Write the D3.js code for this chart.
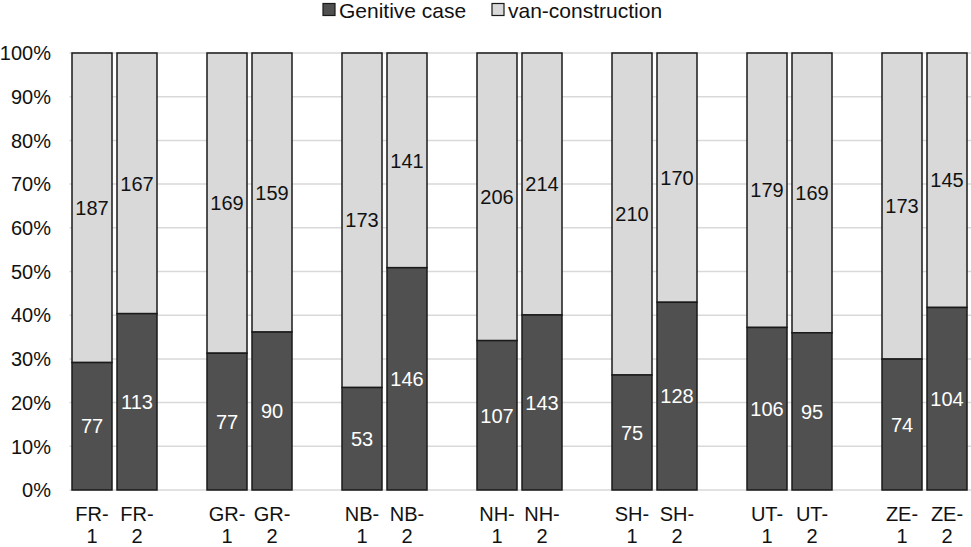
<!DOCTYPE html>
<html><head><meta charset="utf-8">
<script src="https://cdn.jsdelivr.net/npm/d3@7"></script>
<style>body{margin:0;background:#fff}svg{display:block;font-family:"Liberation Sans",Arial,sans-serif}</style>
</head><body><svg id="c" width="971" height="547"></svg>
<script>
const regions = ["FR","GR","NB","NH","SH","UT","ZE"];
const waves = ["1","2"];
const genitive = [77,113,77,90,53,146,107,143,75,128,106,95,74,104];
const vanConstr = [187,167,169,159,173,141,206,214,210,170,179,169,173,145];
const yTicks = [0,0.1,0.2,0.3,0.4,0.5,0.6,0.7,0.8,0.9,1];
const seriesNames = ["Genitive case","van-construction"];

(function(){
const svg = d3.select("#c");
const W = 971, H = 547;
const mLeft = 69.5, mRight = 969.5, mTop = 53, mBottom = 490;
const FS = 20;

const bars = [];
regions.forEach((r,gi)=>waves.forEach((w,wi)=>{
  const i = gi*2+wi;
  const total = genitive[i]+vanConstr[i];
  bars.push({slot: gi*3+wi, region:r, wave:w, gen:genitive[i], van:vanConstr[i], g:genitive[i]/total});
}));
const nSlots = regions.length*3-1;
const x = d3.scaleBand().domain(d3.range(nSlots)).range([mLeft,mRight]).paddingInner(5/45).paddingOuter(2.5/45);
const y = d3.scaleLinear().domain([0,1]).range([mBottom,mTop]);

svg.append("g").selectAll("line").data(yTicks).join("line")
  .attr("x1",mLeft).attr("x2",W).attr("y1",d=>y(d)).attr("y2",d=>y(d))
  .attr("stroke","#d9d9d9").attr("stroke-width",1.5);

svg.append("g").selectAll("text").data(yTicks).join("text")
  .attr("x",51).attr("y",d=>y(d)).attr("dy","0.36em").attr("text-anchor","end")
  .attr("font-size",FS).attr("fill","#111").text(d=>d3.format(".0%")(d));

const bw = x.bandwidth();
const gB = svg.append("g");
gB.selectAll("rect.van").data(bars).join("rect").attr("class","van")
  .attr("x",d=>x(d.slot)).attr("width",bw)
  .attr("y",y(1)).attr("height",d=>y(d.g)-y(1))
  .attr("fill","#d9d9d9").attr("stroke","#1a1a1a").attr("stroke-width",1.5);
gB.selectAll("rect.gen").data(bars).join("rect").attr("class","gen")
  .attr("x",d=>x(d.slot)).attr("width",bw)
  .attr("y",d=>y(d.g)).attr("height",d=>y(0)-y(d.g))
  .attr("fill","#505050").attr("stroke","#1a1a1a").attr("stroke-width",1.5);

gB.selectAll("text.gl").data(bars).join("text").attr("class","gl")
  .attr("x",d=>x(d.slot)+bw/2).attr("y",d=>y(d.g/2)).attr("dy","0.36em")
  .attr("text-anchor","middle").attr("font-size",FS).attr("fill","#fff").text(d=>d.gen);
gB.selectAll("text.vl").data(bars).join("text").attr("class","vl")
  .attr("x",d=>x(d.slot)+bw/2).attr("y",d=>y((1+d.g)/2)).attr("dy","0.36em")
  .attr("text-anchor","middle").attr("font-size",FS).attr("fill","#111").text(d=>d.van);

const cl = svg.append("g").selectAll("text").data(bars).join("text")
  .attr("text-anchor","middle").attr("font-size",FS).attr("fill","#111");
cl.append("tspan").attr("x",d=>x(d.slot)+bw/2).attr("y",521).text(d=>d.region+"-");
cl.append("tspan").attr("x",d=>x(d.slot)+bw/2).attr("y",543).text(d=>d.wave);

const leg = svg.append("g");
const legItems = [{name:seriesNames[0],fill:"#505050",x:323},{name:seriesNames[1],fill:"#d9d9d9",x:492}];
leg.selectAll("rect").data(legItems).join("rect")
  .attr("x",d=>d.x).attr("y",3.5).attr("width",12).attr("height",12)
  .attr("fill",d=>d.fill).attr("stroke","#1a1a1a").attr("stroke-width",1.2);
leg.selectAll("text").data(legItems).join("text")
  .attr("x",d=>d.x+16).attr("y",10).attr("dy","0.36em").attr("font-size",21).attr("fill","#111").text(d=>d.name);
})();
</script></body></html>
